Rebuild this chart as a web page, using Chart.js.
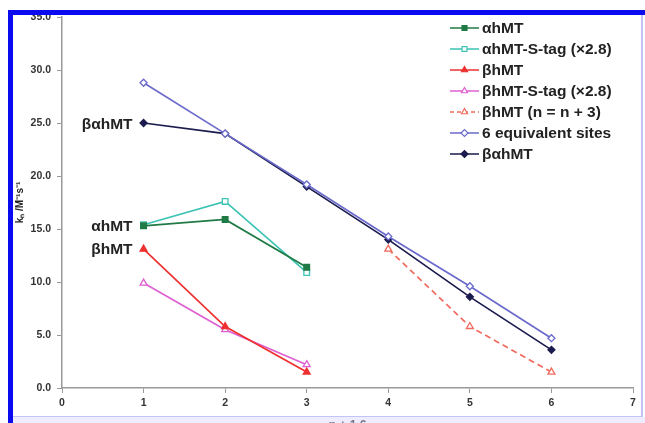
<!DOCTYPE html>
<html>
<head>
<meta charset="utf-8">
<script src="https://cdn.jsdelivr.net/npm/chart.js@4.4.1/dist/chart.umd.min.js"></script>
<style>
  html, body { margin: 0; padding: 0; background: #fff; }
  #wrap { position: relative; width: 645px; height: 423px; overflow: hidden; }
</style>
</head>
<body>
<div id="wrap"><canvas id="c" width="645" height="423"></canvas></div>
<script>
  "use strict";

  // n values (x axis)
  const nFirst = [1, 2, 3];
  const nShifted = [4, 5, 6];
  const nAll = [1, 2, 3, 4, 5, 6];

  // k_n values
  const alphaHMT = [15.3, 15.9, 11.4];
  const alphaHMTStag = [15.4, 17.6, 10.9];
  const betaHMT = [13.1, 5.8, 1.5];
  const betaHMTStag = [9.9, 5.5, 2.2];
  const betaHMTShift = [13.1, 5.8, 1.5];
  const equivSites = [28.8, 24.0, 19.2, 14.3, 9.6, 4.7];
  const betaAlphaHMT = [25.0, 24.0, 19.0, 14.0, 8.6, 3.6];

  const yTicks = [0, 5, 10, 15, 20, 25, 30, 35];

  // in-plot annotations at n = 1
  const sideLabels = [
    { text: "\u03b2\u03b1hMT", y: 24.9 },
    { text: "\u03b1hMT", y: 15.3 },
    { text: "\u03b2hMT", y: 13.1 },
  ];

  const pts = (xs, ys) => xs.map((x, i) => ({ x: x, y: ys[i] }));

  function series(label, xs, ys, color, style, filled, dashed) {
    return {
      label: label,
      data: pts(xs, ys),
      borderColor: color,
      backgroundColor: filled ? color : "#fff",
      pointBackgroundColor: filled ? color : "#fff",
      pointBorderColor: color,
      pointStyle: style,
      pointRadius: style === "rectRot" ? 3.5 : 4,
      pointBorderWidth: 1.3,
      borderWidth: 1.7,
      borderDash: dashed ? [6, 4] : [],
      tension: 0,
    };
  }

  const datasets = [
    series("\u03b1hMT", nFirst, alphaHMT, "#1f7a45", "rect", true),
    series("\u03b1hMT-S-tag (\u00d72.8)", nFirst, alphaHMTStag, "#3cc3b3", "rect", false),
    series("\u03b2hMT", nFirst, betaHMT, "#ee3030", "triangle", true),
    series("\u03b2hMT-S-tag (\u00d72.8)", nFirst, betaHMTStag, "#de5fd2", "triangle", false),
    series("\u03b2hMT (n = n + 3)", nShifted, betaHMTShift, "#f06a5e", "triangle", false, true),
    series("6 equivalent sites", nAll, equivSites, "#6a6acc", "rectRot", false),
    series("\u03b2\u03b1hMT", nAll, betaAlphaHMT, "#1b1b4e", "rectRot", true),
  ];

  const FONT = "'Liberation Sans', Arial, sans-serif";

  // legend: line with marker, label to the right
  const lineLegend = {
    id: "lineLegend",
    afterDraw(chart) {
      const ctx = chart.ctx;
      const x0 = 450, x1 = 479, tx = 482, top = 28, step = 21;
      ctx.save();
      ctx.font = "bold 15.5px " + FONT;
      ctx.textBaseline = "middle";
      chart.data.datasets.forEach((ds, i) => {
        const y = top + i * step;
        ctx.strokeStyle = ds.borderColor;
        ctx.lineWidth = 1.5;
        ctx.setLineDash(ds.borderDash.length ? [4, 3] : []);
        ctx.beginPath();
        ctx.moveTo(x0, y);
        ctx.lineTo(x1, y);
        ctx.stroke();
        ctx.setLineDash([]);
        ctx.fillStyle = ds.pointBackgroundColor;
        ctx.strokeStyle = ds.pointBorderColor;
        ctx.lineWidth = 1.2;
        Chart.helpers.drawPoint(ctx, { pointStyle: ds.pointStyle, radius: 3.5, borderWidth: 1.2 }, (x0 + x1) / 2, y);
        ctx.fillStyle = "#222";
        ctx.fillText(ds.label, tx, y + 1);
      });
      ctx.restore();
    },
  };

  const annotations = {
    id: "annotations",
    afterDatasetsDraw(chart) {
      const ctx = chart.ctx;
      const xs = chart.scales.x, ys = chart.scales.y;
      ctx.save();
      ctx.font = "bold 15.5px " + FONT;
      ctx.fillStyle = "#222";
      ctx.textAlign = "right";
      ctx.textBaseline = "middle";
      sideLabels.forEach((l) => {
        ctx.fillText(l.text, xs.getPixelForValue(1) - 11, ys.getPixelForValue(l.y) + 1);
      });
      ctx.restore();
    },
  };

  // blue frame of the scanned figure
  const frame = {
    id: "frame",
    afterDraw(chart) {
      const ctx = chart.ctx;
      ctx.save();
      ctx.fillStyle = "rgba(215,215,255,0.45)";
      ctx.fillRect(13, 417, 632, 6);
      ctx.fillStyle = "#c4c4f4";
      ctx.fillRect(13, 416, 629, 1);
      ctx.fillRect(641, 15, 2, 402);
      ctx.fillStyle = "#0a0af0";
      ctx.fillRect(8, 10, 637, 5);
      ctx.fillRect(8, 10, 5, 413);
      ctx.restore();
    },
  };

  new Chart(document.getElementById("c"), {
    type: "line",
    data: { datasets: datasets },
    options: {
      responsive: false,
      animation: false,
      layout: { padding: { left: 14, top: 17, right: 12, bottom: 0 } },
      plugins: { legend: { display: false }, tooltip: { enabled: false } },
      scales: {
        x: {
          type: "linear",
          min: 0,
          max: 7,
          ticks: { stepSize: 1, color: "#333", font: { family: FONT, size: 10.5, weight: "bold" }, padding: 4 },
          grid: { drawOnChartArea: false, color: "#999", tickLength: 5 },
          border: { color: "#999", width: 1.5 },
          title: { display: true, text: "n + 1 6", color: "#222", font: { family: FONT, size: 12, weight: "bold" }, padding: { top: 0, bottom: -10 } },
          afterFit(scale) { scale.height = 35; },
        },
        y: {
          min: 0,
          max: 35,
          afterBuildTicks(scale) { scale.ticks = yTicks.map((v) => ({ value: v })); },
          ticks: { color: "#333", font: { family: FONT, size: 10.5, weight: "bold" }, padding: 6, callback: (v) => v.toFixed(1) },
          grid: { drawOnChartArea: false, color: "#999", tickLength: 5 },
          border: { color: "#999", width: 1.5 },
          title: { display: true, text: "k\u2099 /M\u207b\u00b9s\u207b\u00b9", color: "#222", font: { family: FONT, size: 10, weight: "bold" }, padding: 0 },
          afterFit(scale) { scale.width = 48; },
        },
      },
    },
    plugins: [annotations, lineLegend, frame],
  });
</script>
</body>
</html>
